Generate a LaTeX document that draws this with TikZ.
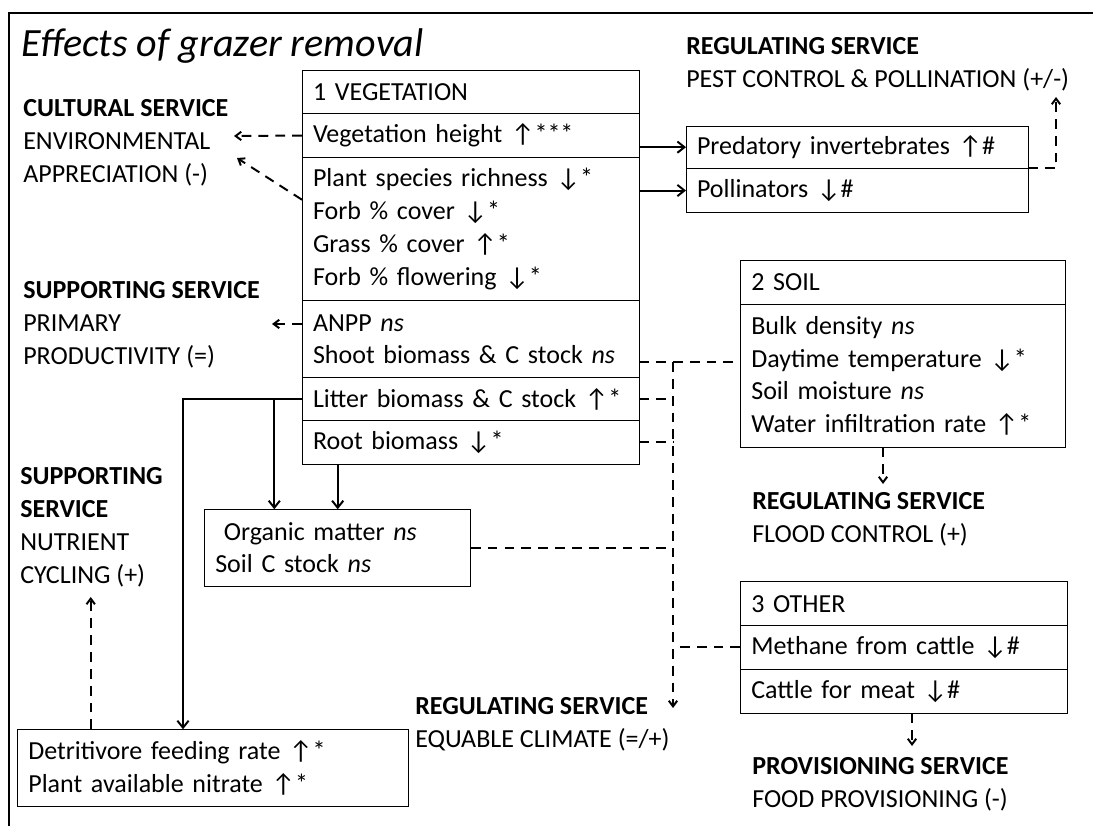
\documentclass[tikz,border=0pt]{standalone}
\usepackage{fontspec}
\setmainfont{Carlito}
\usetikzlibrary{positioning,calc,arrows.meta}
\newcommand{\incr}{↑}
\newcommand{\decr}{↓}
\begin{document}
\begin{tikzpicture}[x=0.025cm, y=-0.025cm,
  font=\fontsize{18.5}{23.4}\selectfont,
  row/.style={draw, line width=0.7pt, rectangle, outer sep=0pt, inner xsep=0.275cm, inner ysep=0pt, align=left, text width=#1},
  svc/.style={anchor=north west, inner sep=0pt, align=left},
  link/.style={line width=1.4pt, -{Straight Barb[length=5pt,width=8pt]}},
  dlink/.style={line width=1.4pt, dash pattern=on 7pt off 5pt},
  dlinkarr/.style={dlink, -{Straight Barb[length=4pt,width=6pt]}}]
\useasboundingbox (0,0) rectangle (1093,826);
\draw[line width=1.4pt] (9.3,826) -- (9.3,12.7) -- (1093,12.7);

\node[anchor=base west, inner sep=0pt, font=\fontsize{28.5}{34}\selectfont\itshape] (title) at (21.7,56.7) {Effects of grazer removal};

% 1 vegetation
\node[row=7.875cm, minimum height=1.083cm, anchor=north west] (veghead) at (302,70) {1 VEGETATION};
\node[row=7.875cm, minimum height=1.11cm, below=0pt of veghead] (veght) {Vegetation height \incr***};
\node[row=7.875cm, minimum height=3.575cm, below=0pt of veght] (vegdiv) {Plant species richness \decr*\\Forb \% cover \decr*\\Grass \% cover \incr*\\Forb \% flowering \decr*};
\node[row=7.875cm, minimum height=1.925cm, below=0pt of vegdiv] (vegprod) {ANPP \textit{ns}\\Shoot biomass \& C stock \textit{ns}};
\node[row=7.875cm, minimum height=1.075cm, below=0pt of vegprod] (veglitter) {Litter biomass \& C stock \incr*};
\node[row=7.875cm, minimum height=1.083cm, below=0pt of veglitter] (vegroot) {Root biomass \decr*};

% invertebrates
\node[row=8cm, minimum height=1.058cm, anchor=north west] (pred) at (686,126) {Predatory invertebrates \incr\#};
\node[row=8cm, minimum height=1.11cm, below=0pt of pred] (poll) {Pollinators \decr\#};

% 2 soil
\node[row=7.575cm, minimum height=1.09cm, anchor=north west] (soilhead) at (740.3,260.7) {2 SOIL};
\node[row=7.575cm, minimum height=3.575cm, below=0pt of soilhead] (soilbody) {Bulk density \textit{ns}\\Daytime temperature \decr*\\Soil moisture \textit{ns}\\Water infiltration rate \incr*};

% 3 other
\node[row=7.625cm, minimum height=1.1cm, anchor=north west] (othhead) at (740.3,581.7) {3 OTHER};
\node[row=7.625cm, minimum height=1.083cm, below=0pt of othhead] (othmeth) {Methane from cattle \decr\#};
\node[row=7.625cm, minimum height=1.108cm, below=0pt of othmeth] (othmeat) {Cattle for meat \decr\#};

% soil organic matter and detritivores
\node[row=6.11cm, minimum height=1.918cm, anchor=north west] (om) at (204.3,509.3) {\ Organic matter \textit{ns}\\Soil C stock \textit{ns}};
\node[row=9.225cm, minimum height=1.918cm, anchor=north west] (detrit) at (17.3,729.3) {Detritivore feeding rate \incr*\\Plant available nitrate \incr*};

% services
\node[svc] (pestsvc) at (686,37) {\textbf{REGULATING SERVICE}\\PEST CONTROL \& POLLINATION (+/-)};
\node[svc] (culsvc) at (23,99) {\textbf{CULTURAL SERVICE}\\ENVIRONMENTAL\\APPRECIATION (-)};
\node[svc] (primsvc) at (23,281) {\textbf{SUPPORTING SERVICE}\\PRIMARY\\PRODUCTIVITY (=)};
\node[svc] (nutsvc) at (20,467) {\textbf{SUPPORTING}\\\textbf{SERVICE}\\NUTRIENT\\CYCLING (+)};
\node[svc] (floodsvc) at (752,492) {\textbf{REGULATING SERVICE}\\FLOOD CONTROL (+)};
\node[svc] (climsvc) at (415,697) {\textbf{REGULATING SERVICE}\\EQUABLE CLIMATE (=/+)};
\node[svc] (provsvc) at (752,757) {\textbf{PROVISIONING SERVICE}\\FOOD PROVISIONING (-)};

% arrow ends
\coordinate (pestin) at (1056,97);
\coordinate (culin1) at (234,136);
\coordinate (culin2) at (237,158);
\coordinate (prodin) at (272,324);
\coordinate (litterbend) at (183,400);
\coordinate (omin1) at ($(om.north west)+(70,0)$);
\coordinate (omin2) at ($(om.north west)+(133.4,0)$);
\coordinate (nutin) at (90.7,597);
\coordinate (bustop) at (673,362);
\coordinate (climin) at (673,708);
\coordinate (floodin) at (883,484);
\coordinate (provin) at (912,746);

\draw[link] (pred.west -| veght.east) -- (pred.west);
\draw[link] (poll.west -| vegdiv.east) -- (poll.west);
\draw[dlinkarr] (pred.south east) -| (pestin);

\draw[dlinkarr] (veght.west) -- (culin1);
\draw[dlinkarr] ($(vegdiv.north west)+(0,42)$) -- (culin2);
\draw[dlinkarr] (vegprod.west |- prodin) -- (prodin);

\draw[link] (veglitter.west) -| (detrit.north -| litterbend);
\draw[link] (omin1 |- veglitter.west) -- (omin1);
\draw[link] (vegroot.south -| omin2) -- (omin2);
\draw[dlinkarr] (detrit.north -| nutin) -- (nutin);

\draw[dlink] (vegprod.east |- bustop) -- (soilbody.west |- bustop);
\draw[dlink] (veglitter.east) -- (veglitter.east -| bustop);
\draw[dlink] (vegroot.east) -- (vegroot.east -| bustop);
\draw[dlink] (om.east) -- (om.east -| bustop);
\draw[dlink] (othmeth.west) -- (othmeth.west -| bustop);
\draw[dlinkarr] (bustop) -- (climin);

\draw[dlinkarr] (soilbody.south -| floodin) -- (floodin);
\draw[dlinkarr] (othmeat.south -| provin) -- (provin);
\end{tikzpicture}
\end{document}
